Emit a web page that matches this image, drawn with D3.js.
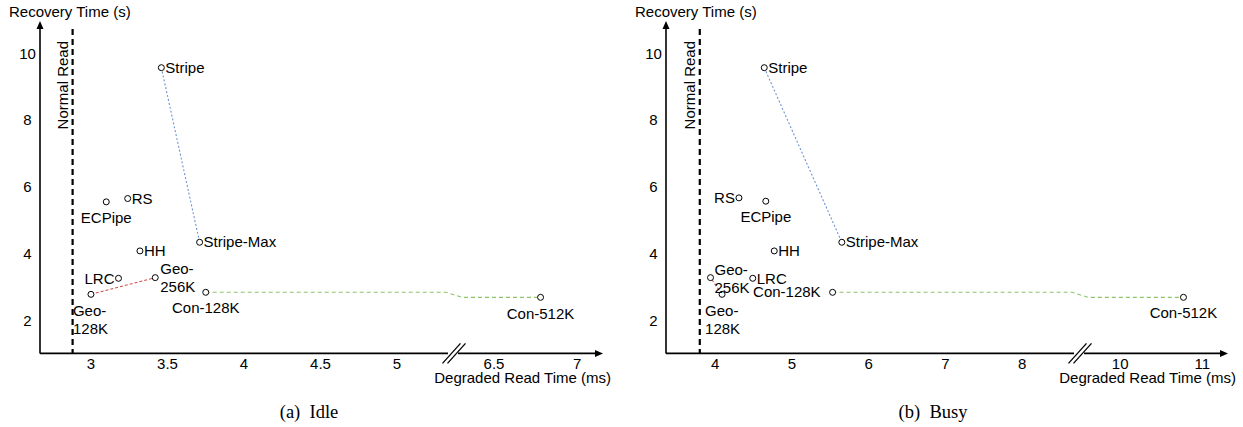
<!DOCTYPE html>
<html lang="en">
<head>
  <meta charset="UTF-8">
  <title>Degraded Read vs Recovery Time</title>
  <style>
    body { margin: 0; background: #fff; }
    svg { display: block; font-family: "Liberation Sans", Arial, sans-serif; }
    .tick { font-size: 15px; fill: #000; }
    .lbl { font-size: 15px; fill: #000; }
    .caption { font-family: "Liberation Serif", "DejaVu Serif", serif; font-size: 18.5px; fill: #000; }
  </style>
</head>
<body>
  <svg id="chart" width="1243" height="427"></svg>

  <script src="https://cdn.jsdelivr.net/npm/d3@7"></script>
  <script>
    // data
    const methods = ["Stripe", "Stripe-Max", "RS", "ECPipe", "HH", "LRC", "Geo-256K", "Geo-128K", "Con-128K", "Con-512K"];
    const idleRead  = [3.46, 3.71, 3.24, 3.10, 3.32, 3.18, 3.42, 3.00, 3.75, 6.78];
    const idleRecov = [9.56, 4.33, 5.64, 5.54, 4.07, 3.25, 3.27, 2.77, 2.83, 2.68];
    const busyRead  = [4.64, 5.65, 4.31, 4.66, 4.77, 4.49, 3.94, 4.09, 5.53, 10.77];
    const busyRecov = [9.56, 4.33, 5.66, 5.56, 4.07, 3.25, 3.27, 2.77, 2.83, 2.68];
    const idleNormal = 2.88;
    const busyNormal = 3.80;
    const idleTicks = [3, 3.5, 4, 4.5, 5, 6.5, 7];
    const busyTicks = [4, 5, 6, 7, 8, 10, 11];
    const yTicks = [2, 4, 6, 8, 10];
    // pairs of methods joined by a dashed line
    const links = [["Stripe", "Stripe-Max", "#6f93d3", "2,2"],
                   ["Geo-128K", "Geo-256K", "#c9514e", "3,2"],
                   ["Con-128K", "Con-512K", "#8cc46a", "4,3"]];

    const svg = d3.select("#chart");

    // label placement (anchor, dx, dy) per panel
    const idlePlace = {
      "Stripe": ["start", 4, 5], "Stripe-Max": ["start", 4, 5], "RS": ["start", 4, 5],
      "ECPipe": ["middle", 0, 21], "HH": ["start", 4, 5], "LRC": ["end", -4, 6],
      "Geo-256K": ["start", 5, -4], "Geo-128K": ["start", -18, 22],
      "Con-128K": ["middle", 0, 21], "Con-512K": ["middle", 0, 22]
    };
    const busyPlace = {
      "Stripe": ["start", 4, 5], "Stripe-Max": ["start", 4, 5], "RS": ["end", -4, 5],
      "ECPipe": ["middle", 0, 21], "HH": ["start", 4, 5], "LRC": ["start", 4, 6],
      "Geo-256K": ["start", 4, -3], "Geo-128K": ["start", -17, 22],
      "Con-128K": ["end", -12, 5], "Con-512K": ["middle", 0, 21]
    };

    const y = d3.scaleLinear().domain([1, 10]).range([353.4, 53]);

    function panel(opt) {
      const g = svg.append("g");
      // broken x axis: piecewise linear scale, the gap is the break
      const x = d3.scaleLinear().domain(opt.domain).range(opt.range);
      const x0 = opt.range[0], x1 = opt.range[3];
      const yb = y(1);

      // axes
      g.append("line").attr("x1", x0).attr("x2", x0).attr("y1", yb).attr("y2", 26)
        .attr("stroke", "#000").attr("stroke-width", 1.6);
      g.append("path").attr("d", `M${x0},21 L${x0 - 3.5},29 L${x0 + 3.5},29 Z`).attr("fill", "#000");
      g.append("line").attr("x1", x0).attr("x2", x1 - 4).attr("y1", yb).attr("y2", yb)
        .attr("stroke", "#000").attr("stroke-width", 1.6);
      g.append("path").attr("d", `M${x1 + 1},${yb} L${x1 - 7},${yb - 3.5} L${x1 - 7},${yb + 3.5} Z`).attr("fill", "#000");

      // break mark
      const bx = (opt.range[1] + opt.range[2]) / 2;
      g.append("rect").attr("x", bx - 6).attr("y", yb - 2).attr("width", 10).attr("height", 4).attr("fill", "#fff");
      [-2.5, 2.5].forEach(o => {
        g.append("line").attr("x1", bx + o - 9).attr("y1", yb + 10).attr("x2", bx + o + 9).attr("y2", yb - 10)
          .attr("stroke", "#000").attr("stroke-width", 1.3);
      });

      // tick labels
      g.selectAll(".xt").data(opt.ticks).join("text").attr("class", "tick")
        .attr("x", d => x(d)).attr("y", yb + 16).attr("text-anchor", "middle").text(d => d);
      g.selectAll(".yt").data(yTicks).join("text").attr("class", "tick")
        .attr("x", x0 - 12.5).attr("y", d => y(d) + 5.5).attr("text-anchor", "middle").text(d => d);

      g.append("text").attr("class", "lbl").attr("x", x0 - 31).attr("y", 17).text("Recovery Time (s)");
      g.append("text").attr("class", "lbl").attr("x", x1 + 9).attr("y", yb + 30)
        .attr("text-anchor", "end").text("Degraded Read Time (ms)");

      // normal read
      const nx = x(opt.normal);
      g.append("line").attr("x1", nx).attr("x2", nx).attr("y1", 29).attr("y2", yb)
        .attr("stroke", "#000").attr("stroke-width", 2.2).attr("stroke-dasharray", "6,4");
      g.append("text").attr("class", "lbl").attr("transform", `translate(${nx - 5},41) rotate(-90)`)
        .attr("text-anchor", "end").text("Normal Read");

      const pts = methods.map((m, i) => ({ m, px: x(opt.read[i]), py: y(opt.recov[i]) }));
      const byName = Object.fromEntries(pts.map(p => [p.m, p]));

      // dashed connections (the Con line bends across the axis break)
      links.forEach(([a, b, color, dash]) => {
        const pa = byName[a], pb = byName[b];
        let coords = [[pa.px, pa.py], [pb.px, pb.py]];
        if (a === "Con-128K") {
          coords = [[pa.px, pa.py], [opt.range[1], pa.py], [opt.range[2], pb.py], [pb.px, pb.py]];
        }
        g.append("path").attr("d", d3.line()(coords)).attr("fill", "none")
          .attr("stroke", color).attr("stroke-width", 1.1).attr("stroke-dasharray", dash);
      });

      g.selectAll("circle").data(pts).join("circle")
        .attr("cx", d => d.px).attr("cy", d => d.py).attr("r", 3)
        .attr("fill", "#fff").attr("stroke", "#000").attr("stroke-width", 1);

      pts.forEach(p => {
        const [anchor, dx, dy] = opt.place[p.m];
        const t = g.append("text").attr("class", "lbl").attr("text-anchor", anchor);
        if (p.m.startsWith("Geo")) {
          const parts = ["Geo-", p.m.slice(4)];
          parts.forEach((s, k) => t.append("tspan").attr("x", p.px + dx).attr("y", p.py + dy + k * 18).text(s));
        } else {
          t.attr("x", p.px + dx).attr("y", p.py + dy).text(p.m);
        }
      });

      svg.append("text").attr("class", "caption").attr("x", opt.capX).attr("y", 418)
        .attr("text-anchor", "middle").text(opt.caption);
    }

    panel({
      domain: [2.667, 5.32, 6.307, 7.15], range: [40, 446, 462, 602],
      ticks: idleTicks, read: idleRead, recov: idleRecov, normal: idleNormal,
      place: idlePlace, caption: "(a)\u2002Idle", capX: 309
    });
    panel({
      domain: [3.36, 8.648, 9.608, 11.3], range: [666, 1072, 1088, 1227],
      ticks: busyTicks, read: busyRead, recov: busyRecov, normal: busyNormal,
      place: busyPlace, caption: "(b)\u2002Busy", capX: 933
    });
  </script>
</body>
</html>
